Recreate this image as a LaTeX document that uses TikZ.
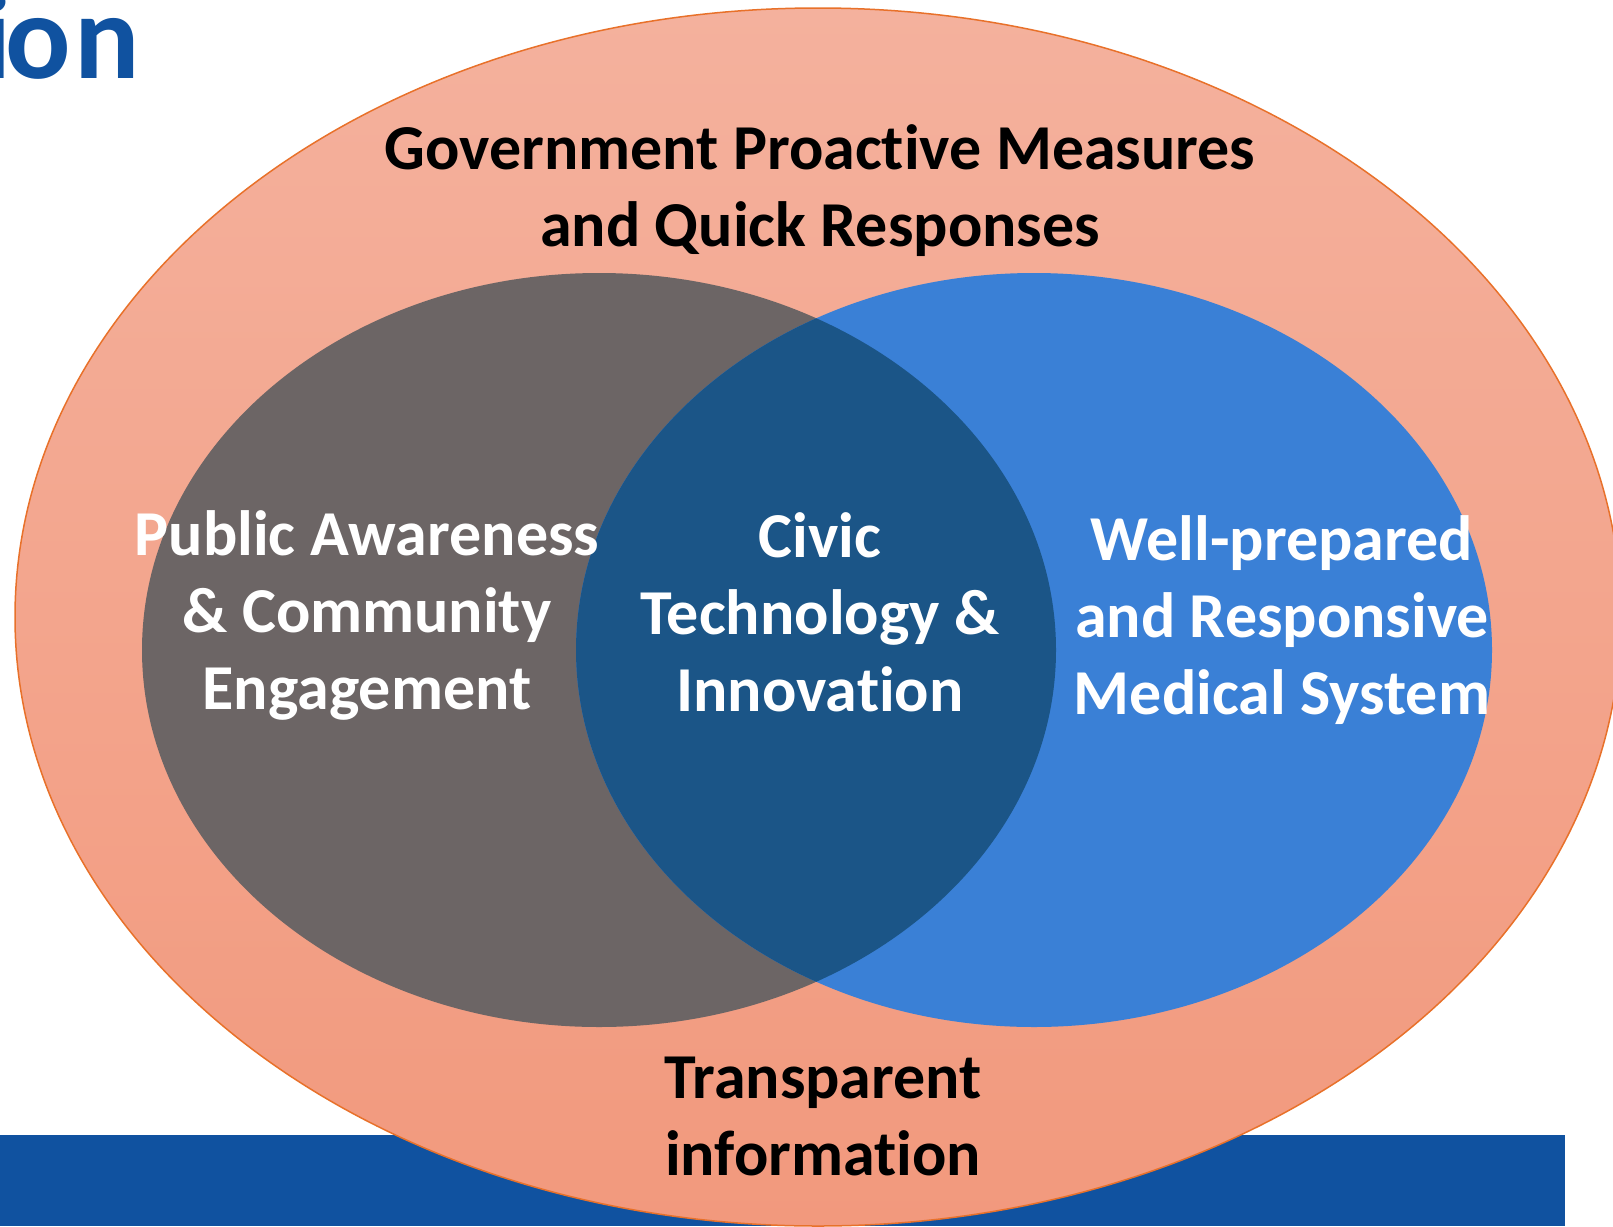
\documentclass[tikz,border=0pt]{standalone}
\usepackage{fontspec}
\setmainfont[Ligatures=NoCommon]{Carlito}
\usepackage{tikz}

\definecolor{bandblue}{RGB}{16,82,160}
\definecolor{salmontop}{RGB}{244,177,157}
\definecolor{salmonbot}{RGB}{242,153,125}
\definecolor{edgeorange}{RGB}{232,113,42}
\definecolor{greyfill}{RGB}{108,101,101}
\definecolor{bluefill}{RGB}{58,128,214}
\definecolor{overlapfill}{RGB}{27,85,135}

\begin{document}
\begin{tikzpicture}[x=1pt, y=-1pt,
    lbl/.style={align=center, inner sep=0pt, font=\fontsize{64}{77}\selectfont\bfseries}]
    \useasboundingbox (0, 0) rectangle (1613, 1226);

    % title remnant and bottom band
    \node[anchor=base east, inner sep=0pt, text=bandblue, font=\fontsize{122}{140}\selectfont\bfseries] at (140, 78) (title) {i\kern-6.5pt o\kern3.5pt n};
    \fill[bandblue] (0, 1135) rectangle (1565, 1226);

    % outer ellipse
    \shadedraw[top color=salmontop, bottom color=salmonbot, draw=edgeorange, line width=1.5pt] (818, 617) ellipse [x radius=803, y radius=609];

    % the two inner ellipses and their overlap
    \fill[greyfill] (599, 650) ellipse [x radius=457, y radius=377];
    \fill[bluefill] (1034, 650) ellipse [x radius=458, y radius=377];
    \begin{scope}
        \clip (599, 650) ellipse [x radius=457, y radius=377];
        \fill[overlapfill] (1034, 650) ellipse [x radius=458, y radius=377];
    \end{scope}

    \node[lbl] at (820, 191) (gov) {Government Proactive Measures\\and Quick Responses};
    \node[lbl, white] at (367, 615) (public) {Public Awareness\\\& Community\\Engagement};
    \node[lbl, white] at (820, 612) (civic) {Civic\\Technology \&\\Innovation};
    \node[lbl, white] at (1282, 620) (medical) {Well-prepared\\and Responsive\\Medical System};
    \node[lbl] at (823, 1116) (transp) {Transparent\\information};
\end{tikzpicture}
\end{document}
